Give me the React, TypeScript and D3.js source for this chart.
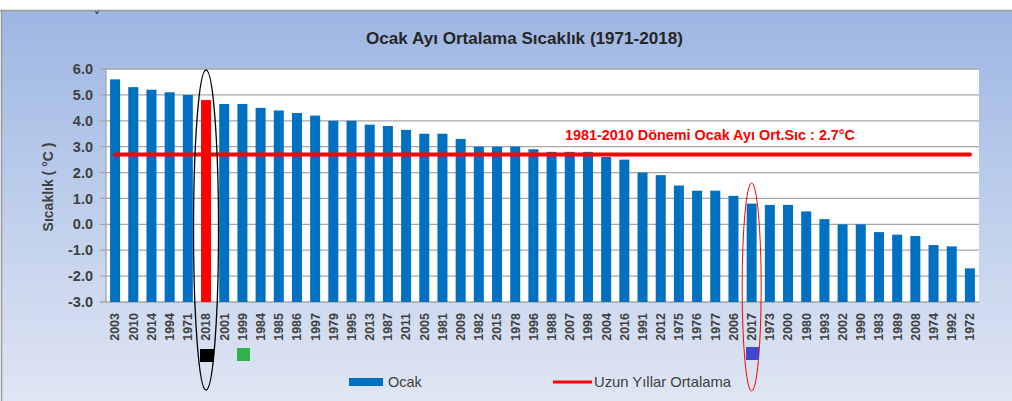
import React from "react";
import * as d3 from "d3";

const years: string[] = [
  "2003","2010","2014","1994","1971","2018","2001","1999","1984","1985","1986","1997",
  "1979","1995","2013","1987","2011","2005","1981","2009","1982","2015","1978","1996",
  "1988","2007","1998","2004","2016","1991","2012","1975","1976","1977","2006","2017",
  "1973","2000","1980","1993","2002","1990","1983","1989","2008","1974","1992","1972",
];
const ocak: number[] = [
  5.6,5.3,5.2,5.1,5.0,4.8,4.65,4.65,4.5,4.4,4.3,4.2,
  4.0,4.0,3.85,3.8,3.65,3.5,3.5,3.3,3.0,3.0,3.0,2.9,
  2.8,2.8,2.8,2.6,2.5,2.0,1.9,1.5,1.3,1.3,1.1,0.8,
  0.75,0.75,0.5,0.2,0.0,0.0,-0.3,-0.4,-0.45,-0.8,-0.85,-1.7,
];
const longTermMean = 2.7;
const yTicks: number[] = [-3, -2, -1, 0, 1, 2, 3, 4, 5, 6];
const highlightYear = "2018";
const circledYear = "2017";

const title = "Ocak Ayı Ortalama Sıcaklık (1971-2018)";
const yTitle = "Sıcaklık ( °C )";
const meanLabel = "1981-2010 Dönemi Ocak Ayı Ort.Sıc : 2.7°C";
const legendBar = "Ocak";
const legendLine = "Uzun Yıllar Ortalama";

const W = 1012;
const H = 401;
const plot = { left: 106, right: 979, top: 69, bottom: 302 };

export default function App() {
  const x = d3
    .scaleBand<string>()
    .domain(years)
    .range([plot.left, plot.right])
    .paddingInner(0.45)
    .paddingOuter(0.225);
  const y = d3.scaleLinear().domain([-3, 6]).range([plot.bottom, plot.top]);
  const bw = x.bandwidth();
  const font = "'Liberation Sans', Arial, sans-serif";
  const hx = (x(highlightYear) as number) + bw / 2;
  const cx2 = (x(circledYear) as number) + bw / 2;

  return (
    <div style={{ position: "absolute", left: 0, top: 0 }}>
      <svg width={W} height={H} style={{ display: "block" }}>
        <defs>
          <linearGradient id="bg" x1="0" y1="0" x2="0" y2="1">
            <stop offset="0" stopColor="#9db6e3" />
            <stop offset="1" stopColor="#dfe6f3" />
          </linearGradient>
        </defs>
        <rect x={0} y={0} width={W} height={H} fill="#ffffff" />
        <rect x={1} y={10} width={W} height={H - 10} fill="url(#bg)" />
        <line x1={0} x2={W} y1={10.5} y2={10.5} stroke="#999" strokeWidth={1.5} />
        <line x1={1.5} x2={1.5} y1={10} y2={H} stroke="#999" strokeWidth={1.5} />
        <path d="M95.5,11 L97,14 L98.5,11" fill="none" stroke="#333" strokeWidth={1} />

        <text x={524.5} y={44} textAnchor="middle" fontFamily={font} fontSize={16.5} fontWeight="bold" fill="#262626"
          textLength={317} lengthAdjust="spacingAndGlyphs">
          {title}
        </text>

        <rect x={plot.left} y={plot.top} width={plot.right - plot.left} height={plot.bottom - plot.top} fill="#ffffff" />
        {yTicks.map((t) => (
          <g key={t}>
            <line x1={plot.left - 6} x2={plot.right} y1={y(t)} y2={y(t)} stroke="#a6a6a6" strokeWidth={1.3} />
            <text x={93} y={y(t)} dy="0.35em" textAnchor="end" fontFamily={font} fontSize={14.5} fontWeight="bold" fill="#404040">
              {t.toFixed(1)}
            </text>
          </g>
        ))}
        <line x1={plot.left} x2={plot.left} y1={plot.top} y2={plot.bottom} stroke="#a6a6a6" strokeWidth={1.3} />

        <text
          transform={`translate(53,187) rotate(-90)`}
          textAnchor="middle"
          fontFamily={font}
          fontSize={14}
          fontWeight="bold"
          fill="#404040"
        >
          {yTitle}
        </text>

        {years.map((yr, i) => (
          <rect
            key={yr}
            x={x(yr)}
            y={y(ocak[i])}
            width={bw}
            height={y(-3) - y(ocak[i])}
            fill={yr === highlightYear ? "#ff0000" : "#0070c0"}
          />
        ))}

        <line
          x1={(x(years[0]) as number) + bw / 2}
          x2={(x(years[years.length - 1]) as number) + bw / 2}
          y1={y(longTermMean)}
          y2={y(longTermMean)}
          stroke="#ff0000"
          strokeWidth={4}
          strokeLinecap="round"
        />
        <text x={565} y={140} fontFamily={font} fontSize={14.2} fontWeight="bold" fill="#ff0000"
          textLength={290} lengthAdjust="spacingAndGlyphs">
          {meanLabel}
        </text>

        {years.map((yr) => (
          <text
            key={yr}
            transform={`translate(${(x(yr) as number) + bw / 2},${plot.bottom + 11}) rotate(-90)`}
            textAnchor="end"
            dy="0.35em"
            fontFamily={font}
            fontSize={12.5}
            fontWeight="bold"
            fill="#404040"
          >
            {yr}
          </text>
        ))}

        <ellipse cx={hx} cy={230} rx={12.5} ry={160} fill="none" stroke="#000" strokeWidth={1.3} />
        <rect x={200} y={349} width={14} height={13} fill="#000" />
        <rect x={237} y={348} width={13} height={13} fill="#2db34a" />
        <ellipse cx={cx2} cy={287} rx={9.5} ry={104} fill="none" stroke="#ff0000" strokeWidth={1} />
        <rect x={746} y={347} width={13} height={13} fill="#3f48cc" />

        <rect x={349} y={378} width={34} height={8} fill="#0070c0" />
        <text x={388} y={382} dy="0.35em" fontFamily={font} fontSize={14.5} fill="#404040">
          {legendBar}
        </text>
        <line x1={553} x2={592} y1={382} y2={382} stroke="#ff0000" strokeWidth={3} />
        <text x={594} y={382} dy="0.35em" fontFamily={font} fontSize={14.5} fill="#404040"
          textLength={137} lengthAdjust="spacingAndGlyphs">
          {legendLine}
        </text>
      </svg>
    </div>
  );
}
